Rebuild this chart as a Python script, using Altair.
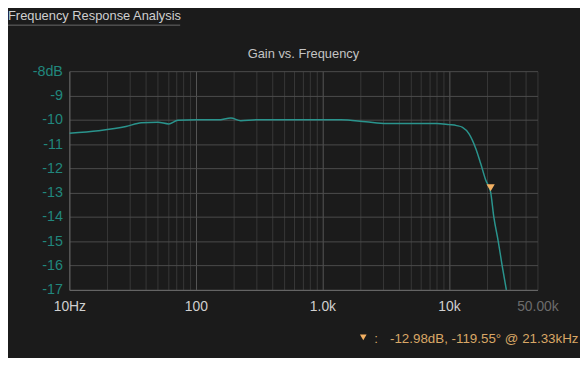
import altair as alt
import pandas as pd

# ---------------- data ----------------
freq_hz = [10, 17, 28, 37, 50, 61, 72, 100, 150, 189, 226, 300, 500, 1000,
           1400, 2200, 3200, 5000, 8000, 10000, 11500, 12800, 14400, 16300,
           17800, 19500, 21330, 22600, 24500, 26300, 28400]
gain_db = [-10.55, -10.45, -10.28, -10.12, -10.10, -10.17, -10.02, -10.00,
           -10.00, -9.93, -10.04, -10.00, -10.00, -10.00, -10.00, -10.08,
           -10.15, -10.15, -10.15, -10.20, -10.24, -10.31, -10.58, -11.19,
           -11.80, -12.48, -12.98, -14.00, -15.00, -16.00, -17.00]

x_ticks = [10, 20, 30, 40, 50, 60, 70, 80, 90,
           100, 200, 300, 400, 500, 600, 700, 800, 900,
           1000, 2000, 3000, 4000, 5000, 6000, 7000, 8000, 9000,
           10000, 20000, 30000, 40000, 50000]
x_label_values = [10, 100, 1000, 10000, 50000]
x_label_texts = ["10Hz", "100", "1.0k", "10k", "50.00k"]
x_major_grid = [100, 1000, 10000]
y_ticks = [-8, -9, -10, -11, -12, -13, -14, -15, -16, -17]

marker_freq = [21330]
marker_gain = [-12.98]
marker_text = "-12.98dB, -119.55° @ 21.33kHz"

panel_title = "Frequency Response Analysis"
chart_title = "Gain vs. Frequency"

# ---------------- styling ----------------
BG = "#1b1b1b"
TEAL_LINE = "#2a948d"
TEAL_LABEL = "#21877d"
ORANGE = "#f3b062"
ANNOT = "#d9a766"
FONT = "Liberation Sans, Arial, sans-serif"

W, H = 473, 221

curve = pd.DataFrame({"f": freq_hz, "g": gain_db})
mk = pd.DataFrame({"f": marker_freq, "g": marker_gain})

label_expr = ""
for v, t in zip(x_label_values, x_label_texts):
    label_expr += f"datum.value == {v} ? '{t}' : "
label_expr += "''"

major_list = "[" + ",".join(str(v) for v in x_major_grid) + "]"

xs = alt.Scale(type="log", domain=[x_ticks[0], x_ticks[-1]], nice=False)
ys = alt.Scale(domain=[y_ticks[-1], y_ticks[0]], nice=False, zero=False)

x_axis = alt.Axis(
    values=x_ticks,
    tickCount=len(x_ticks),
    labelExpr=label_expr,
    labelOverlap=False,
    labelFlush=False,
    ticks=False,
    grid=True,
    gridColor={"condition": {"test": f"indexof({major_list}, datum.value) >= 0",
                             "value": "#575757"},
               "value": "#383838"},
    gridWidth=1,
    domainColor="#6a6a6a",
    labelColor={"condition": {"test": f"datum.value == {x_ticks[-1]}", "value": "#6c6c6c"},
                "value": "#d0d0d0"},
    labelFont=FONT,
    labelFontSize=14,
    labelPadding=10,
    title=None,
)

y_axis = alt.Axis(
    values=y_ticks,
    tickCount=len(y_ticks),
    labelExpr=f"datum.value == {y_ticks[0]} ? '-8dB' : '-' + abs(datum.value)",
    labelOverlap=False,
    ticks=False,
    grid=True,
    gridColor="#4c4c4c",
    domainColor="#6a6a6a",
    labelColor=TEAL_LABEL,
    labelFont=FONT,
    labelFontSize=14.5,
    labelPadding=7,
    title=None,
)

line = alt.Chart(curve).mark_line(
    color=TEAL_LINE, strokeWidth=1.5, clip=True, interpolate="monotone"
).encode(
    x=alt.X("f:Q", scale=xs, axis=x_axis),
    y=alt.Y("g:Q", scale=ys, axis=y_axis),
)

marker = alt.Chart(mk).mark_point(
    shape="triangle-down", filled=True, size=70, color=ORANGE, opacity=1, yOffset=-4.5
).encode(
    x=alt.X("f:Q", scale=xs),
    y=alt.Y("g:Q", scale=ys),
)

title_df = pd.DataFrame({"t": [panel_title]})
panel_title_mark = alt.Chart(title_df).mark_text(
    align="left", baseline="alphabetic", font=FONT, fontSize=13, color="#cfcfcf"
).encode(text="t:N", x=alt.value(-62), y=alt.value(-51.5))

underline = alt.Chart(title_df).mark_rule(color="#6a6a6a", strokeWidth=1).encode(
    x=alt.value(-62), x2=alt.value(112), y=alt.value(-46.5)
)

ct_df = pd.DataFrame({"t": [chart_title]})
chart_title_mark = alt.Chart(ct_df).mark_text(
    align="center", baseline="alphabetic", font=FONT, fontSize=13, color="#c4c4c4"
).encode(text="t:N", x=alt.value(W / 2), y=alt.value(-13.5))

legend_sym = alt.Chart(mk).mark_point(
    shape="triangle-down", filled=True, size=45, color=ORANGE, opacity=1
).encode(x=alt.value(297), y=alt.value(269))

colon = alt.Chart(ct_df).mark_text(
    align="left", baseline="alphabetic", font=FONT, fontSize=13.5, color=ANNOT
).encode(text=alt.value(":"), x=alt.value(308), y=alt.value(275))

mt_df = pd.DataFrame({"t": [marker_text]})
annot = alt.Chart(mt_df).mark_text(
    align="left", baseline="alphabetic", font=FONT, fontSize=13.5, color=ANNOT
).encode(text="t:N", x=alt.value(324), y=alt.value(275))

chart = alt.layer(
    line, marker, panel_title_mark, underline, chart_title_mark, legend_sym, colon, annot
).properties(
    width=W,
    height=H,
    autosize=alt.AutoSizeParams(type="none"),
    padding={"left": 62, "top": 62, "right": 43, "bottom": 67},
    background=BG,
).configure_view(stroke=None)

chart.save("out.html", embed_options={"renderer": "svg", "actions": False})
